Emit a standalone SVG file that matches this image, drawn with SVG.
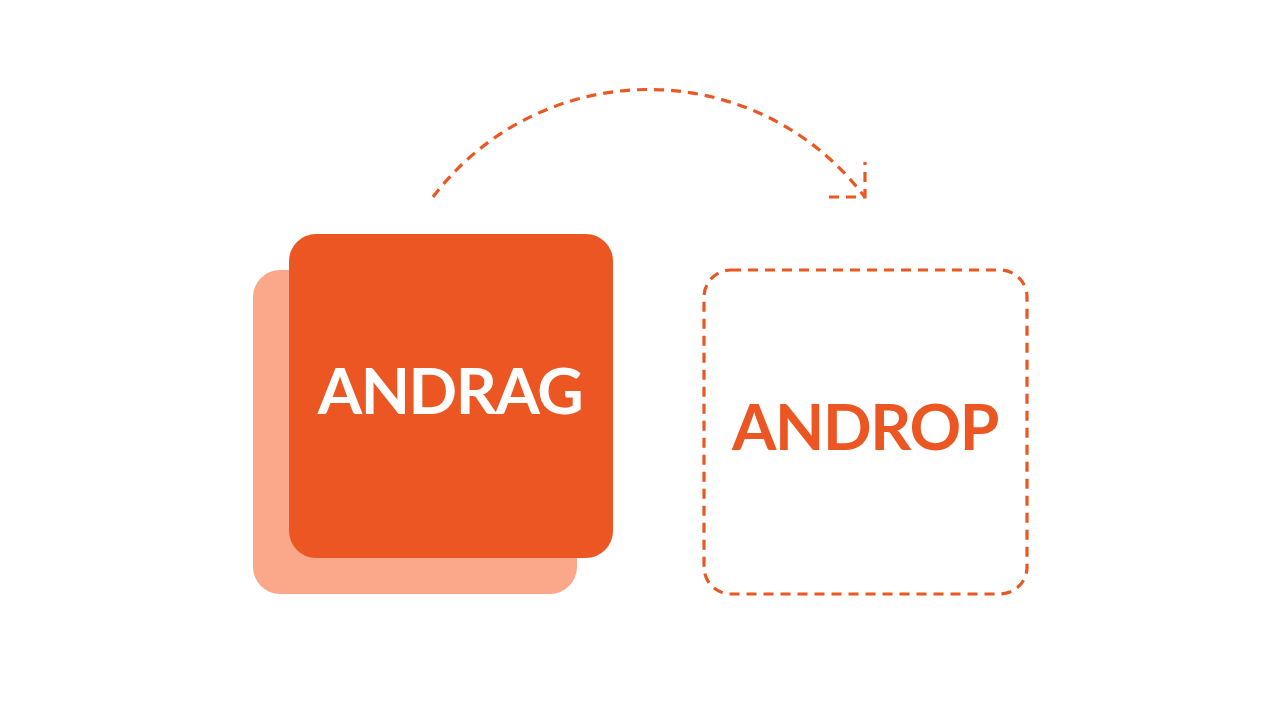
<svg xmlns="http://www.w3.org/2000/svg" width="1280" height="720" viewBox="0 0 1280 720">
<style>
.lbl{font-family:Lato,"Liberation Sans",sans-serif;font-weight:700;font-size:64px;letter-spacing:-1.4px;text-anchor:middle}
.dash{fill:none;stroke:#EC5623;stroke-width:3.2;stroke-dasharray:10 7}
</style>
<rect width="1280" height="720" fill="#FFFFFF"/>
<g id="node-andrag">
<rect x="253" y="270" width="324" height="324" rx="27" fill="#FAA889"/>
<rect x="289" y="234" width="324" height="324" rx="27" fill="#EC5623"/>
<text class="lbl" x="450" y="414" fill="#FFFFFF">ANDRAG</text>
</g>
<g id="node-androp">
<rect x="704" y="270" width="323" height="324" rx="27" class="dash" stroke-dasharray="9 6"/>
<text class="lbl" x="865" y="450" fill="#EC5623">ANDROP</text>
</g>
<g id="connectors">
<path class="dash" d="M433,197 A270.5,270.5 0 0 1 864,196"/>
<path class="dash" d="M829,197 H865 V162"/>
</g>
</svg>
